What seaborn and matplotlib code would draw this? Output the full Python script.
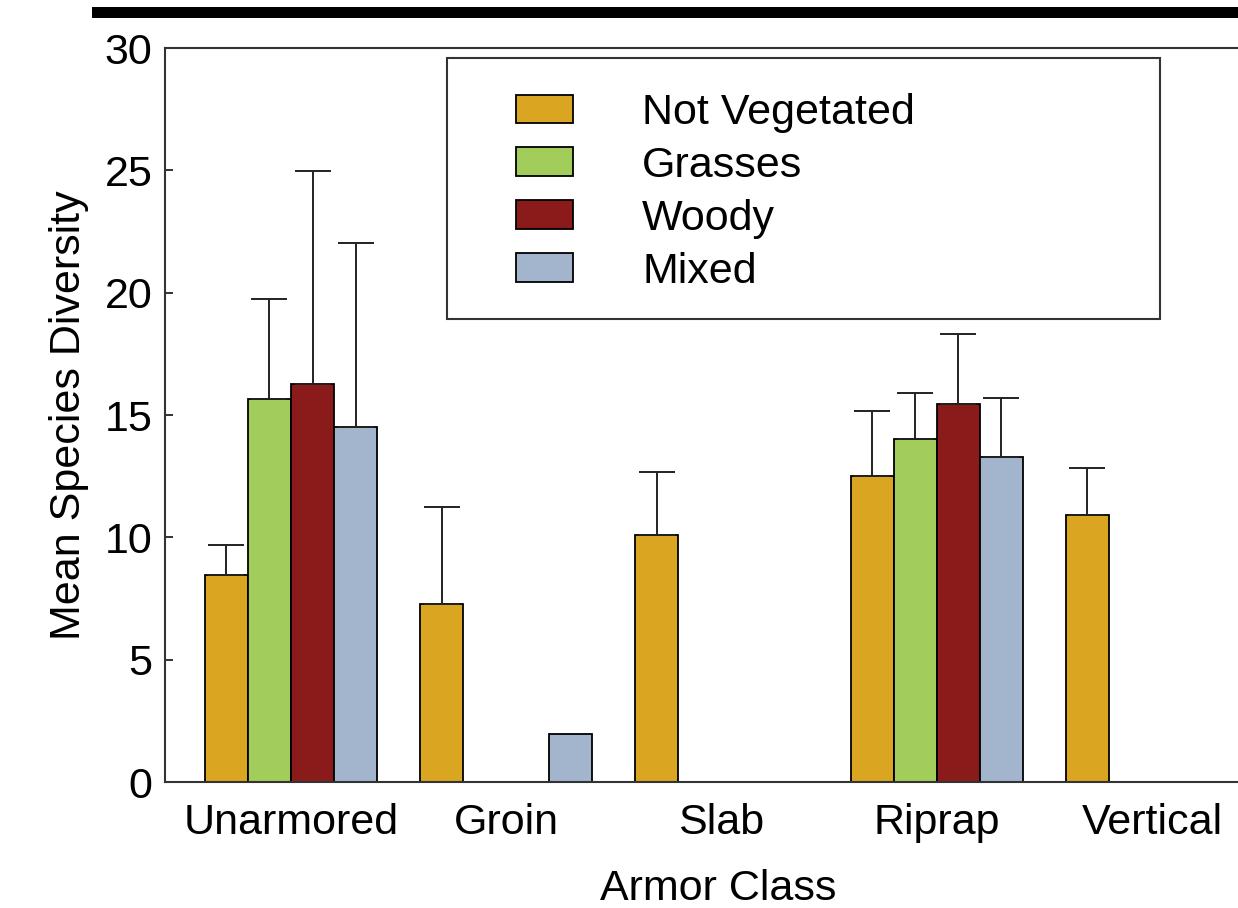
import numpy as np
import pandas as pd
import matplotlib
matplotlib.use("Agg")
import matplotlib.pyplot as plt
import seaborn as sns
from matplotlib.patches import Rectangle

nan = np.nan
categories = ["Unarmored", "Groin", "Slab", "Riprap", "Vertical"]
vegetation = ["Not Vegetated", "Grasses", "Woody", "Mixed"]

not_vegetated = [8.45, 7.27, 10.10, 12.52, 10.90]
grasses = [15.67, nan, nan, 14.00, nan]
woody = [16.27, nan, nan, 15.47, nan]
mixed = [14.51, 1.97, nan, 13.27, nan]

not_vegetated_err = [1.25, 3.97, 2.58, 2.65, 1.92]
grasses_err = [4.07, nan, nan, 1.90, nan]
woody_err = [8.70, nan, nan, 2.85, nan]
mixed_err = [7.52, nan, nan, 2.42, nan]

colors = ["#DAA520", "#A2CD5A", "#8B1A1A", "#A2B5CD"]

means = [not_vegetated, grasses, woody, mixed]
errs = [not_vegetated_err, grasses_err, woody_err, mixed_err]

rows = []
for v, m_list, e_list in zip(vegetation, means, errs):
    for c, m, e in zip(categories, m_list, e_list):
        if not np.isnan(m):
            rows.append({"Armor Class": c, "Vegetation": v, "Diversity": m, "Err": e})
df = pd.DataFrame(rows)

sns.set_style("ticks")
plt.rcParams["font.family"] = ["Liberation Sans", "DejaVu Sans"]
plt.rcParams["text.color"] = "black"
plt.rcParams["axes.labelcolor"] = "black"
plt.rcParams["xtick.color"] = "black"
plt.rcParams["ytick.color"] = "black"

W, H = 1238, 908
fig = plt.figure(figsize=(W / 100, H / 100), dpi=100)
ax_left, ax_right, ax_bottom, ax_top = 165, 1271, 782, 48
ax = fig.add_axes([ax_left / W, 1 - ax_bottom / H,
                   (ax_right - ax_left) / W, (ax_bottom - ax_top) / H])

sns.barplot(data=df, x="Armor Class", y="Diversity", hue="Vegetation",
            order=categories, hue_order=vegetation, palette=colors,
            width=0.8, errorbar=None, edgecolor="black", linewidth=1.3,
            saturation=1, ax=ax, zorder=2)

# error bars (upper only)
nh = len(vegetation)
bw = 0.8 / nh
for j, (m_list, e_list) in enumerate(zip(means, errs)):
    for i, (m, e) in enumerate(zip(m_list, e_list)):
        if np.isnan(m) or np.isnan(e):
            continue
        x = i + (j - (nh - 1) / 2) * bw
        ax.errorbar([x], [m], yerr=[[0], [e]], fmt="none", ecolor="#222222",
                    elinewidth=1.4, capsize=12.8, capthick=1.4, zorder=3)

ax.set_xlim(-0.5854, 4.553)
ax.set_ylim(0, 30)
ax.set_yticks([0, 5, 10, 15, 20, 25, 30])
fs = 31
ax.tick_params(axis="y", direction="in", length=6, width=1.4, color="#333333",
               labelsize=fs, labelcolor="black", pad=9)
ax.tick_params(axis="x", length=0, labelsize=fs, labelcolor="black", pad=15)
for s in ["left", "bottom", "top", "right"]:
    ax.spines[s].set_visible(True)
    ax.spines[s].set_linewidth(1.5)
    ax.spines[s].set_color("#333333")

ax.set_xlabel("Armor Class", fontsize=fs, labelpad=19, color="black")
ax.set_ylabel("Mean Species Diversity", fontsize=fs, labelpad=11, color="black")

handles, labels = ax.get_legend_handles_labels()
ax.legend(handles, labels, loc="upper left",
          bbox_to_anchor=(516 / W, 1 - 93 / H), bbox_transform=fig.transFigure,
          frameon=False, fontsize=fs, handlelength=1.33, handleheight=0.65,
          handletextpad=1.6, labelspacing=0.3, borderpad=0, borderaxespad=0,
          labelcolor="black")

# legend frame box
fig.add_artist(Rectangle((447 / W, 1 - 319 / H), 713 / W, 261 / H,
                         transform=fig.transFigure, fill=False,
                         edgecolor="#333333", linewidth=1.5))
# thick rule at top
fig.add_artist(Rectangle((92 / W, 1 - 18 / H), 1 - 92 / W, 11 / H,
                         transform=fig.transFigure, facecolor="black",
                         edgecolor="none"))

fig.savefig("out.png", dpi=100)
